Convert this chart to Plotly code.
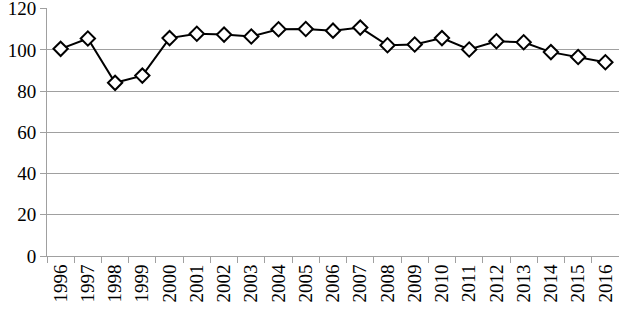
import plotly.graph_objects as go

years = [str(y) for y in range(1996, 2017)]
values = [100.5, 105.5, 84.0, 87.5, 105.7, 107.8, 107.4, 106.5, 110.0, 110.1, 109.3,
          110.8, 102.2, 102.6, 105.7, 100.2, 104.2, 103.7, 98.9, 96.5, 94.0]
y_ticks = [0, 20, 40, 60, 80, 100, 120]

fig = go.Figure()
fig.add_trace(go.Scatter(
    x=years, y=values, mode="lines+markers",
    line=dict(color="black", width=2),
    marker=dict(symbol="diamond", size=11, color="white",
                line=dict(color="black", width=2)),
    showlegend=False, cliponaxis=False,
))

font = dict(family="Liberation Serif, Times New Roman, serif", size=19, color="black")
fig.update_layout(
    width=619, height=309,
    margin=dict(l=47, r=0, t=8, b=53, autoexpand=False),
    paper_bgcolor="white", plot_bgcolor="white",
    font=font,
)
fig.update_xaxes(
    type="category", range=[-0.5, len(years) - 0.5], tickangle=-90, tickson="boundaries",
    ticks="outside", ticklen=6, tickcolor="#a0a0a0", tickwidth=1,
    showline=True, linecolor="#a0a0a0", linewidth=1,
    showgrid=False, tickfont=font, automargin=False,
    ticklabeloverflow="allow",
)
fig.update_yaxes(
    range=[0, 120.3], tickvals=y_ticks,
    ticks="outside", ticklen=6, tickcolor="#a0a0a0", tickwidth=1,
    showline=True, linecolor="#a0a0a0", linewidth=1,
    showgrid=True, gridcolor="#a0a0a0", gridwidth=1,
    zeroline=False, tickfont=font, automargin=False,
    ticklabeloverflow="allow",
)
fig.write_html("out.html", config={"displayModeBar": False},
               post_script="document.body.style.margin='0';")
